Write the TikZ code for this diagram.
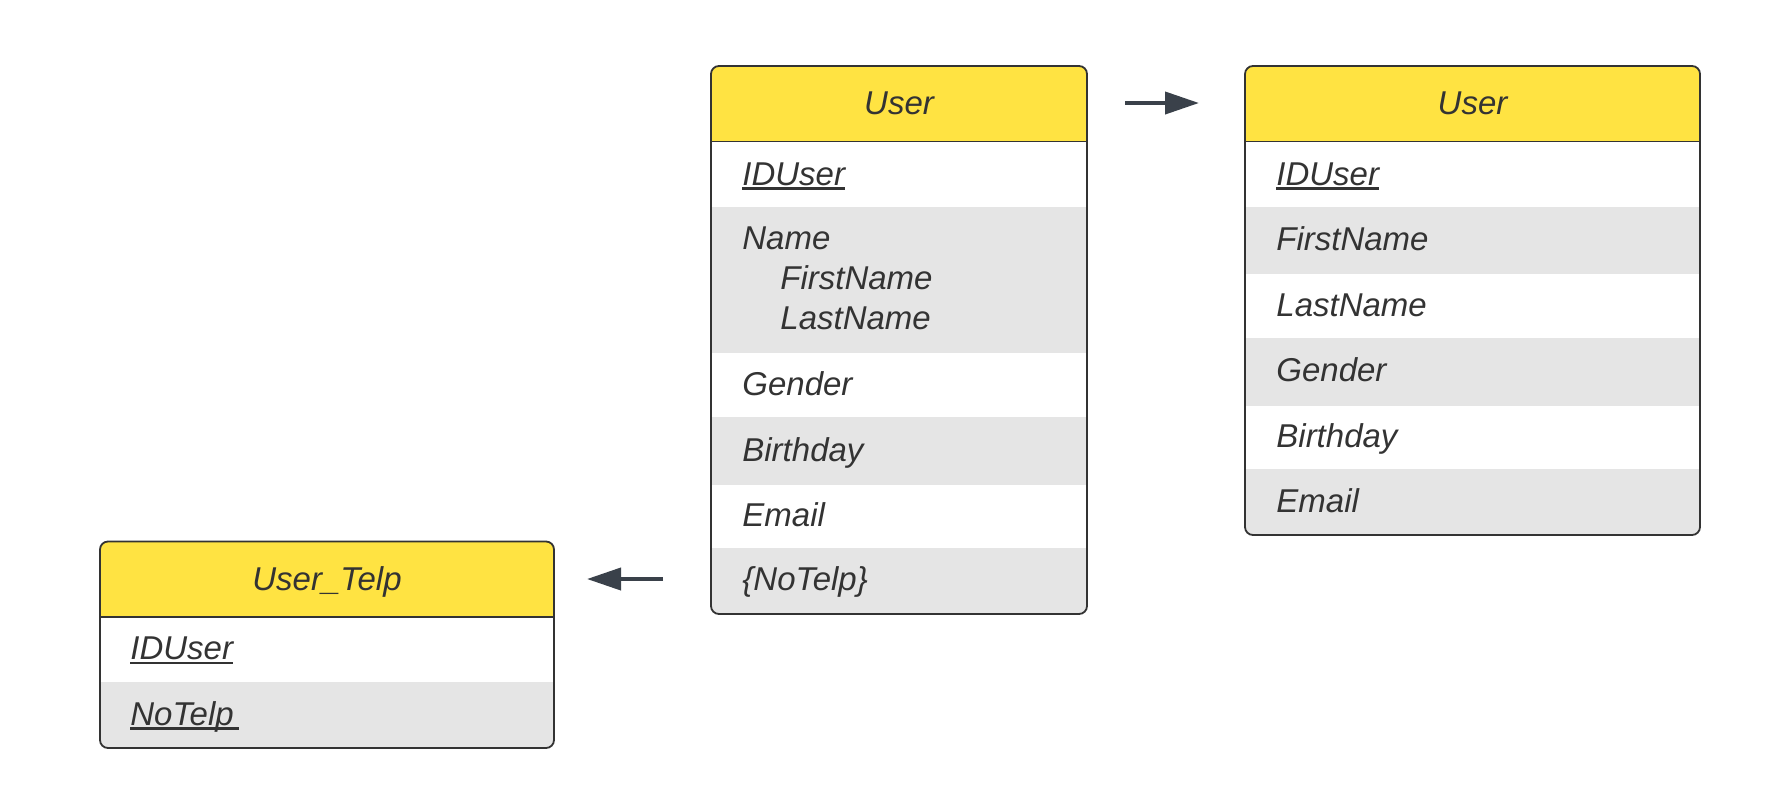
\documentclass[tikz,border=0pt]{standalone}
\usepackage{fontspec}
\setmainfont{Liberation Sans}
\usetikzlibrary{arrows.meta}
\definecolor{hdr}{HTML}{FFE342}
\definecolor{rowgray}{HTML}{E5E5E5}
\definecolor{ink}{HTML}{333333}
\definecolor{arrowc}{HTML}{3A414A}
\newlength\ulwd
\newcommand\keyul[1]{\settowidth\ulwd{#1}\rlap{\rule[-2.4pt]{\ulwd}{1.3pt}}#1}
\tikzset{
  txt/.style={anchor=base west, inner sep=0pt, text=ink, font=\fontsize{16.5}{20}\selectfont\itshape},
  hdrtxt/.style={anchor=base, inner sep=0pt, text=ink, font=\fontsize{16.5}{20}\selectfont\itshape},
  frame/.style={draw=ink, line width=0.9pt, rounded corners=4pt, inner sep=0pt, outer sep=0pt},
  sep/.style={draw=ink, line width=0.9pt},
  link/.style={draw=arrowc, line width=2pt, -{Triangle[length=17pt,width=11pt]}},
}
\begin{document}
\begin{tikzpicture}[x=0.5pt,y=-0.5pt]
\useasboundingbox (0,0) rectangle (1776,810);

% ---- middle table (User, original) ----
\begin{scope}
  \clip[rounded corners=4pt] (711,66) rectangle (1087,614);
  \fill[hdr] (711,66) rectangle (1087,141.5);
  \fill[rowgray] (711,207) rectangle (1087,353);
  \fill[rowgray] (711,417) rectangle (1087,485);
  \fill[rowgray] (711,548) rectangle (1087,614);
\end{scope}
\draw[sep] (711,141.5) -- (1087,141.5);
\node[frame, minimum width=188pt, minimum height=274pt] (userA) at (899,340) {};
\node[hdrtxt] (userAh) at (899,114) {User};
\node[txt] (userA1) at (742,185) {\keyul{IDUser}};
\node[txt] (userA2) at (742,249) {Name};
\node[txt] (userA2a) at (780,289) {FirstName};
\node[txt] (userA2b) at (780,329) {LastName};
\node[txt] (userA3) at (742,395) {Gender};
\node[txt] (userA4) at (742,461) {Birthday};
\node[txt] (userA5) at (742,526) {Email};
\node[txt] (userA6) at (742,590) {\{NoTelp\}};

% ---- right table (User, normalised) ----
\begin{scope}
  \clip[rounded corners=4pt] (1245,66) rectangle (1700,535);
  \fill[hdr] (1245,66) rectangle (1700,141.5);
  \fill[rowgray] (1245,207) rectangle (1700,274);
  \fill[rowgray] (1245,338) rectangle (1700,406);
  \fill[rowgray] (1245,469) rectangle (1700,535);
\end{scope}
\draw[sep] (1245,141.5) -- (1700,141.5);
\node[frame, minimum width=227.5pt, minimum height=234.5pt] (userB) at (1472.5,300.5) {};
\node[hdrtxt] (userBh) at (1472.5,114) {User};
\node[txt] (userB1) at (1276,185) {\keyul{IDUser}};
\node[txt] (userB2) at (1276,250.5) {FirstName};
\node[txt] (userB3) at (1276,316) {LastName};
\node[txt] (userB4) at (1276,381.5) {Gender};
\node[txt] (userB5) at (1276,447) {Birthday};
\node[txt] (userB6) at (1276,512) {Email};

% ---- left table (User_Telp) ----
\begin{scope}
  \clip[rounded corners=4pt] (100,541.5) rectangle (554,748);
  \fill[hdr] (100,541.5) rectangle (554,617);
  \fill[rowgray] (100,682) rectangle (554,748);
\end{scope}
\draw[sep] (100,617) -- (554,617);
\node[frame, minimum width=227pt, minimum height=103.25pt] (telp) at (327,644.75) {};
\node[hdrtxt] (telph) at (327,590) {User\_Telp};
\node[txt] (telp1) at (130,659.5) {\keyul{IDUser}};
\node[txt] (telp2) at (130,725) {\keyul{NoTelp\kern2.5pt}};

% ---- arrows ----
\coordinate (a1s) at (1125,103);
\coordinate (a1e) at (1199,103);
\coordinate (a2s) at (663,579);
\coordinate (a2e) at (587,579);
\draw[link] (a1s) -- (a1e);
\draw[link] (a2s) -- (a2e);
\end{tikzpicture}
\end{document}
